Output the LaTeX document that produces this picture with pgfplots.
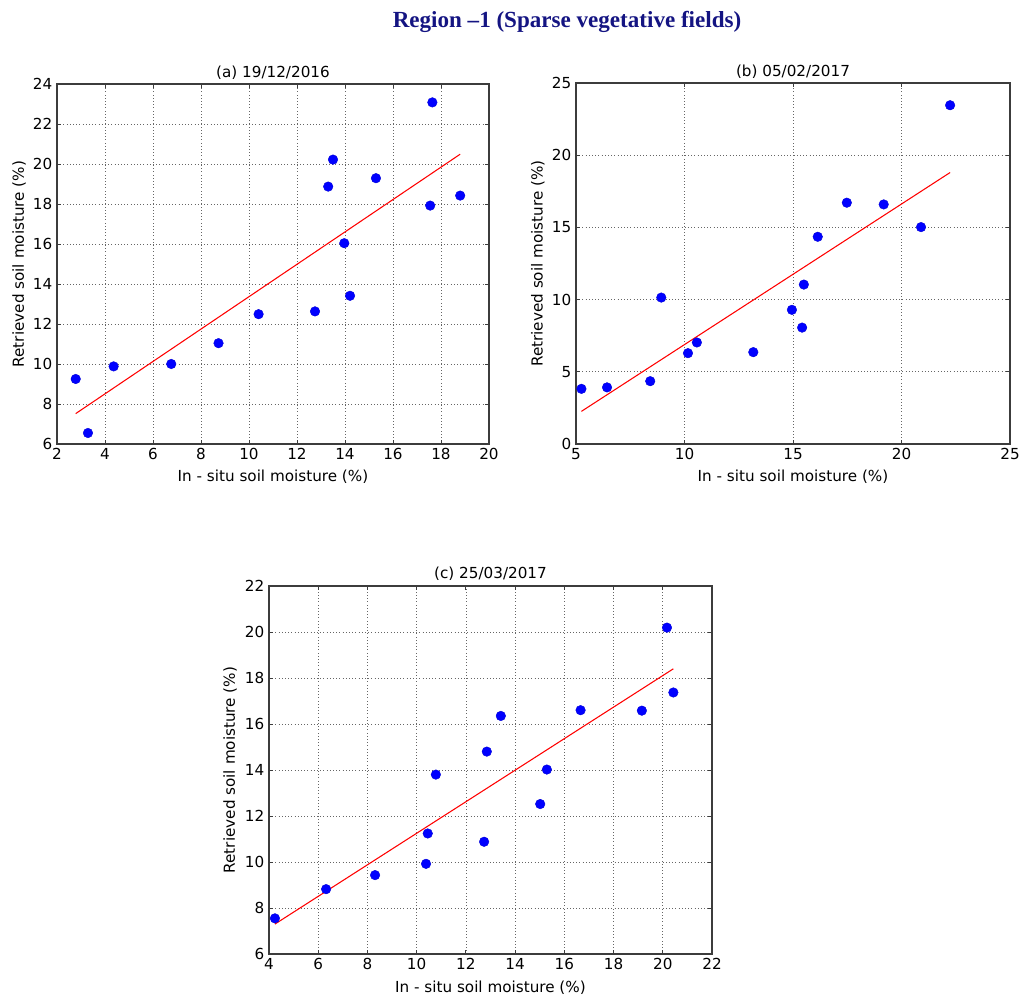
\documentclass[border=0pt]{standalone}
\usepackage{fontspec}
\usepackage{pgfplots}
\pgfplotsset{compat=1.18}
\setmainfont{DejaVu Sans}
\newfontfamily\titlefont{Liberation Serif}
\definecolor{navytitle}{RGB}{20,20,130}
\definecolor{framegray}{RGB}{60,60,60}

% scatter panels: in-situ vs retrieved soil moisture
\pgfplotsset{
  smpanel/.style={
    scale only axis,
    anchor=south west,
    axis line style={framegray, line width=0.9pt},
    tick style={framegray, line width=0.6pt},
    major tick length=3pt,
    tick align=inside,
    xtick pos=both, ytick pos=both,
    grid=major,
    major grid style={black!60, dotted, line width=0.5pt},
    /pgf/number format/assume math mode=true,
    tick label style={font=\fontsize{11.4}{13}\selectfont},
    label style={font=\fontsize{11.4}{13}\selectfont},
    every axis title shift=0pt,
    title style={font=\fontsize{11.4}{13}\selectfont, anchor=center},
    xlabel={In - situ soil moisture (\%)},
    ylabel={Retrieved soil moisture (\%)},
    xlabel style={at={(axis description cs:0.5,-0.0917)}, anchor=center},
    clip=false,
  },
  ptstyle/.style={only marks, mark=*, mark size=3.6pt,
    mark options={fill=blue, draw=blue!85!black, line width=0.3pt}},
  fitstyle/.style={red, line width=0.8pt, no marks},
}

\begin{document}
\begin{tikzpicture}
\useasboundingbox (0pt,0pt) rectangle (765.75pt,749.25pt);

\node[anchor=base, font=\titlefont\bfseries\fontsize{17.3}{20}\selectfont, text=navytitle]
  at (425.25pt,728.25pt) {Region –1 (Sparse vegetative fields)};

% (a)
\begin{axis}[smpanel,
  at={(42.75pt,416.25pt)}, width=324pt, height=270pt,
  xmin=2, xmax=20, ymin=6, ymax=24,
  xtick={2,4,...,20}, ytick={6,8,...,24},
  title={(a) 19/12/2016},
  title style={at={(axis description cs:0.5,1.031)}},
  ylabel style={at={(axis description cs:-0.088,0.5)}, anchor=center},
]
\addplot[ptstyle] coordinates {
 (2.78,9.25) (3.29,6.55) (4.36,9.88) (6.76,10.00) (8.73,11.04)
 (10.40,12.49) (12.75,12.63) (13.30,18.87) (13.50,20.22) (13.97,16.04)
 (14.21,13.41) (15.29,19.29) (17.55,17.92) (17.64,23.08) (18.80,18.42)
};
\addplot[fitstyle] coordinates {(2.78,7.52) (18.80,20.49)};
\end{axis}

% (b)
\begin{axis}[smpanel,
  at={(432pt,416.25pt)}, width=325.5pt, height=270.75pt,
  xmin=5, xmax=25, ymin=0, ymax=25,
  xtick={5,10,...,25}, ytick={0,5,...,25},
  title={(b) 05/02/2017},
  title style={at={(axis description cs:0.5,1.031)}},
  ylabel style={at={(axis description cs:-0.088,0.5)}, anchor=center},
]
\addplot[ptstyle] coordinates {
 (5.25,3.82) (6.43,3.92) (8.42,4.35) (8.93,10.14) (10.16,6.29)
 (10.57,7.03) (13.17,6.36) (14.95,9.29) (15.42,8.06) (15.50,11.04)
 (16.14,14.35) (17.48,16.71) (19.18,16.59) (20.90,15.02) (22.24,23.46)
};
\addplot[fitstyle] coordinates {(5.25,2.26) (22.24,18.80)};
\end{axis}

% (c)
\begin{axis}[smpanel,
  at={(201.75pt,33.75pt)}, width=332.25pt, height=276pt,
  xmin=4, xmax=22, ymin=6, ymax=22,
  xtick={4,6,...,22}, ytick={6,8,...,22},
  title={(c) 25/03/2017},
  title style={at={(axis description cs:0.5,1.0326)}},
  ylabel style={at={(axis description cs:-0.088,0.5)}, anchor=center},
]
\addplot[ptstyle] coordinates {
 (4.24,7.55) (6.32,8.82) (8.31,9.43) (10.38,9.92) (10.45,11.24)
 (10.78,13.80) (12.74,10.88) (12.85,14.80) (13.42,16.35) (15.02,12.52)
 (15.29,14.02) (16.66,16.60) (19.15,16.58) (20.17,20.19) (20.43,17.37)
};
\addplot[fitstyle] coordinates {(4.24,7.30) (20.43,18.40)};
\end{axis}
\end{tikzpicture}
\end{document}
